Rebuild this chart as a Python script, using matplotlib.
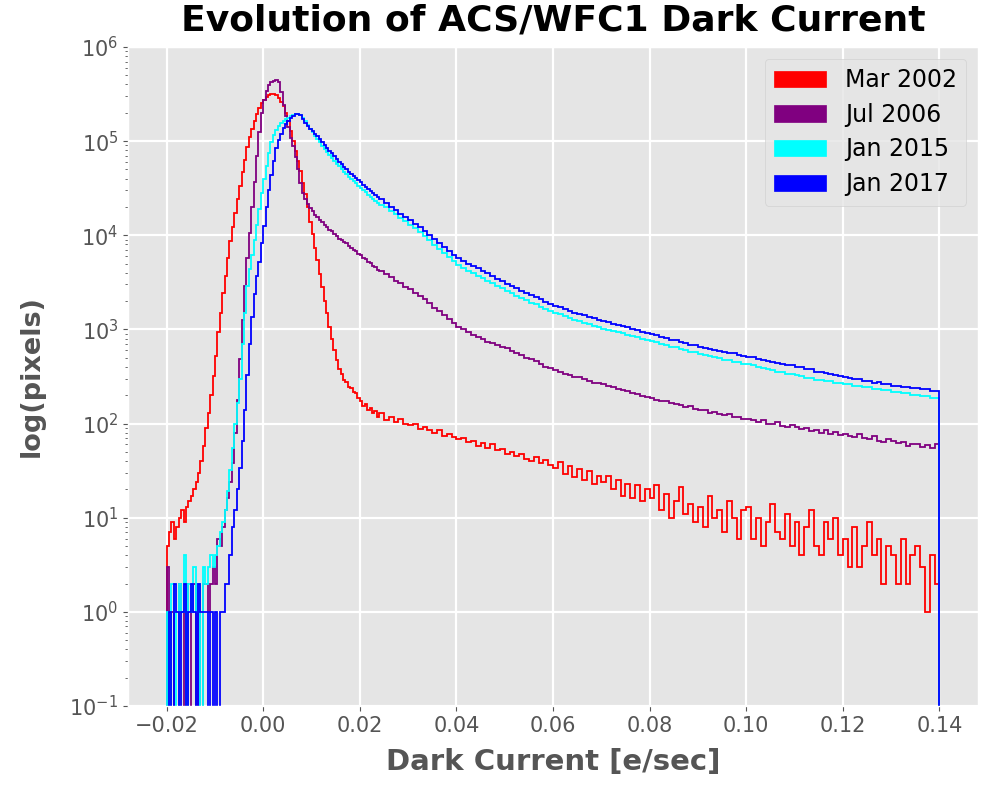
import matplotlib
matplotlib.use("Agg")
import matplotlib.pyplot as plt
from matplotlib.patches import Patch
import numpy as np

# --- DATA ---
# fine bins (0.0005 e/sec) from -0.02 to 0.024, coarse bins (0.001) up to 0.14
fine_lo, fine_hi, n_fine = -0.02, 0.024, 88
coarse_hi, n_coarse = 0.14, 116

labels = ["Mar 2002", "Jul 2006", "Jan 2015", "Jan 2017"]
colors = ["red", "purple", "cyan", "blue"]

mar2002_fine = [
    5, 7, 9, 6, 8, 10, 12, 9, 13, 15, 17, 20, 24, 30, 40, 58,
    90, 130, 200, 320, 520, 950, 1500, 2450, 3700, 5700,
    8700, 12300, 17400, 24000, 33000, 47000, 63000, 87000, 110000, 135000,
    162000, 195000, 224000, 251000, 275000, 295000, 309000, 316000, 315000, 308000,
    290000, 263000, 234000, 200000, 162000, 129000, 100000, 79000, 62000, 48000,
    36000, 27500, 20000, 14000, 10200, 7400, 5400, 3900, 2800, 2000,
    1480, 1070, 800, 600, 470, 380, 335, 290, 275, 245,
    240, 218, 212, 186, 175, 152, 160, 140, 148, 130,
    135, 118,
]
mar2002_coarse = [
    130, 110, 118, 105, 112, 100,
    96, 98, 88, 92, 85, 80, 86, 74, 78, 72,
    68, 70, 64, 66, 58, 62, 55, 60, 52, 54,
    48, 50, 45, 48, 42, 40, 44, 38, 41, 36,
    34, 39, 29, 35, 27, 33, 25, 31, 23, 28,
    24, 28, 20, 25, 17, 23, 16, 22, 15, 20,
    16, 22, 12, 18, 10, 15, 21, 11, 14, 9,
    13, 8, 17, 10, 12, 7, 15, 10, 6, 12,
    13, 6, 10, 5, 9, 14, 7, 6, 11, 5,
    9, 4, 8, 12, 5, 4, 9, 6, 10, 4,
    6, 3, 8, 3, 5, 9, 4, 6, 2, 5,
    4, 2, 6, 2, 4, 5, 3, 1, 4, 2,
]

jul2006_fine = [
    3, 0, 1, 0, 0, 2, 1, 0, 2, 0, 1, 2, 0, 1, 0, 2,
    2, 1, 2, 3, 2, 6, 5, 8, 12, 16,
    24, 38, 80, 180, 480, 1250, 2900, 5800, 10500, 20000,
    37000, 70000, 125000, 200000, 275000, 340000, 390000, 420000, 440000, 445000,
    420000, 330000, 240000, 185000, 140000, 108000, 88000, 68000, 50000, 36000,
    28000, 24000, 21500, 19500, 18200, 16600, 15700, 14400, 13800, 12700,
    12300, 11400, 11000, 10200, 9900, 9200, 9000, 8400, 8200, 7600,
    7400, 6900, 6750, 6300, 6150, 5750, 5550, 5200, 5050, 4700,
    4550, 4250,
]
jul2006_coarse = [
    4200, 3900, 3600, 3300, 3100, 2850,
    2700, 2450, 2250, 2100, 1900, 1700, 1580, 1420, 1300, 1180,
    1050, 1000, 930, 880, 830, 800, 740, 720, 680, 650,
    630, 590, 560, 540, 500, 480, 460, 430, 400, 390,
    370, 355, 340, 330, 310, 310, 295, 285, 270, 270,
    265, 250, 245, 230, 228, 220, 210, 205, 195, 192,
    185, 180, 172, 175, 165, 160, 158, 150, 152, 142,
    140, 138, 130, 134, 125, 122, 126, 116, 118, 112,
    113, 108, 104, 110, 100, 98, 103, 94, 92, 96,
    92, 88, 90, 84, 85, 80, 86, 78, 81, 76,
    78, 74, 72, 77, 70, 68, 73, 66, 64, 69,
    66, 62, 64, 58, 61, 60, 56, 59, 55, 60,
]

jan2015_fine = [
    1, 0, 2, 1, 0, 2, 1, 4, 0, 2, 1, 3, 1, 2, 0, 3,
    2, 3, 4, 3, 4, 5, 7, 9, 12, 19,
    32, 55, 100, 165, 300, 700, 1500, 2900, 4400, 6200,
    9000, 13000, 19000, 28000, 40000, 55000, 75000, 97000, 115000, 130000,
    143000, 154000, 163000, 170000, 177000, 183000, 188000, 192000, 194000, 190000,
    176000, 162000, 148000, 136000, 125000, 114000, 105000, 97000, 89000, 82000,
    76000, 70500, 66000, 61500, 57500, 54000, 50500, 47500, 44500, 42000,
    39500, 37500, 35500, 33500, 31800, 30000, 28500, 27000, 25600, 24300,
    23000, 21800,
]
jan2015_coarse = [
    20800, 19800, 18300, 16800, 15400, 14200,
    13000, 11900, 10900, 9900, 8900, 7900, 7200, 6500, 5900, 5300,
    4800, 4500, 4200, 3950, 3700, 3500, 3300, 3100, 2900, 2720,
    2550, 2420, 2290, 2170, 2050, 1930, 1840, 1750, 1660, 1580,
    1500, 1440, 1380, 1330, 1270, 1220, 1180, 1140, 1090, 1055,
    1020, 990, 960, 935, 905, 880, 850, 825, 800, 775,
    750, 735, 700, 690, 655, 645, 618, 608, 580, 570,
    550, 532, 526, 505, 498, 478, 470, 452, 447, 432,
    425, 415, 398, 393, 378, 372, 357, 352, 340, 336,
    325, 320, 307, 306, 293, 292, 281, 280, 268, 270,
    262, 262, 252, 252, 242, 242, 233, 234, 225, 226,
    218, 216, 209, 210, 202, 201, 195, 194, 187, 185,
]

jan2017_fine = [
    0, 1, 0, 2, 1, 0, 1, 2, 0, 1, 2, 1, 0, 2, 1, 1,
    1, 0, 1, 0, 1, 0, 1, 1, 2, 2,
    4, 8, 12, 20, 34, 65, 140, 330, 700, 1350,
    2400, 3700, 5200, 8200, 12500, 20000, 30000, 44000, 62000, 84000,
    102000, 120000, 138000, 153000, 165000, 176000, 185000, 192000, 196000, 191000,
    172000, 157000, 145000, 136000, 127000, 120000, 112000, 105000, 98000, 91000,
    85000, 79000, 74000, 69000, 64500, 60500, 57000, 53500, 50500, 47500,
    45000, 42500, 40500, 38500, 36500, 34600, 32800, 31100, 29500, 28000,
    26600, 25200,
]
jan2017_coarse = [
    24000, 22000, 20200, 18500, 17000, 15700,
    14500, 13300, 12200, 11100, 10100, 9100, 8300, 7500, 6800, 6200,
    5700, 5350, 5000, 4700, 4450, 4200, 3950, 3700, 3450, 3250,
    3050, 2880, 2720, 2580, 2440, 2300, 2190, 2080, 1970, 1870,
    1780, 1710, 1640, 1580, 1510, 1450, 1410, 1360, 1310, 1270,
    1230, 1195, 1150, 1120, 1080, 1050, 1020, 985, 950, 920,
    890, 870, 832, 815, 780, 765, 736, 720, 686, 675,
    645, 635, 612, 605, 586, 580, 556, 555, 530, 525,
    510, 505, 482, 475, 458, 455, 436, 432, 416, 414,
    400, 396, 376, 376, 356, 354, 341, 339, 324, 323,
    310, 308, 297, 295, 283, 283, 272, 273, 261, 263,
    253, 252, 246, 244, 238, 237, 230, 230, 222, 222,
]

series = [
    mar2002_fine + mar2002_coarse,
    jul2006_fine + jul2006_coarse,
    jan2015_fine + jan2015_coarse,
    jan2017_fine + jan2017_coarse,
]

# --- PLOT ---
plt.style.use("ggplot")
plt.rcParams["font.family"] = ["DejaVu Sans"]

edges = np.concatenate([np.linspace(fine_lo, fine_hi, n_fine + 1),
                        np.linspace(fine_hi, coarse_hi, n_coarse + 1)[1:]])
centers = 0.5 * (edges[:-1] + edges[1:])

fig = plt.figure(figsize=(9.81, 7.92), dpi=100)
ax = fig.add_axes([0.1305, 0.1086, 0.8665, 0.8321])

for counts, c in zip(series, colors):
    assert len(counts) == len(centers)
    ax.hist(centers, bins=edges, weights=counts, histtype="step",
            color=c, linewidth=1.3, log=True)

ax.set_yscale("log", nonpositive="clip")
ax.set_ylim(1e-1, 1e6)
ax.set_xlim(-0.028, 0.148)
ax.set_xticks([-0.02, 0.0, 0.02, 0.04, 0.06, 0.08, 0.10, 0.12, 0.14])
ax.set_xticklabels(["\u22120.02", "0.00", "0.02", "0.04", "0.06",
                    "0.08", "0.10", "0.12", "0.14"])
ax.grid(True, which="major", color="white", linewidth=1.6)
ax.tick_params(axis="x", labelsize=15, colors="#555555")
ax.tick_params(axis="y", labelsize=15, colors="#555555")

ax.set_title("Evolution of ACS/WFC1 Dark Current", fontsize=26,
             fontweight="bold", color="black", pad=12)
ax.set_xlabel("Dark Current [e/sec]", fontsize=21, fontweight="bold",
              color="#555555", labelpad=9)
ax.set_ylabel("log(pixels)", fontsize=19.5, fontweight="bold",
              color="#555555", labelpad=18)

handles = [Patch(facecolor=c, edgecolor=c) for c in colors]
ax.legend(handles, labels, loc="upper right", fontsize=17,
          handlelength=2.2, handleheight=0.7, handletextpad=0.8,
          borderaxespad=0.5, labelspacing=0.45)

plt.savefig("out.png", dpi=100)
plt.close()
